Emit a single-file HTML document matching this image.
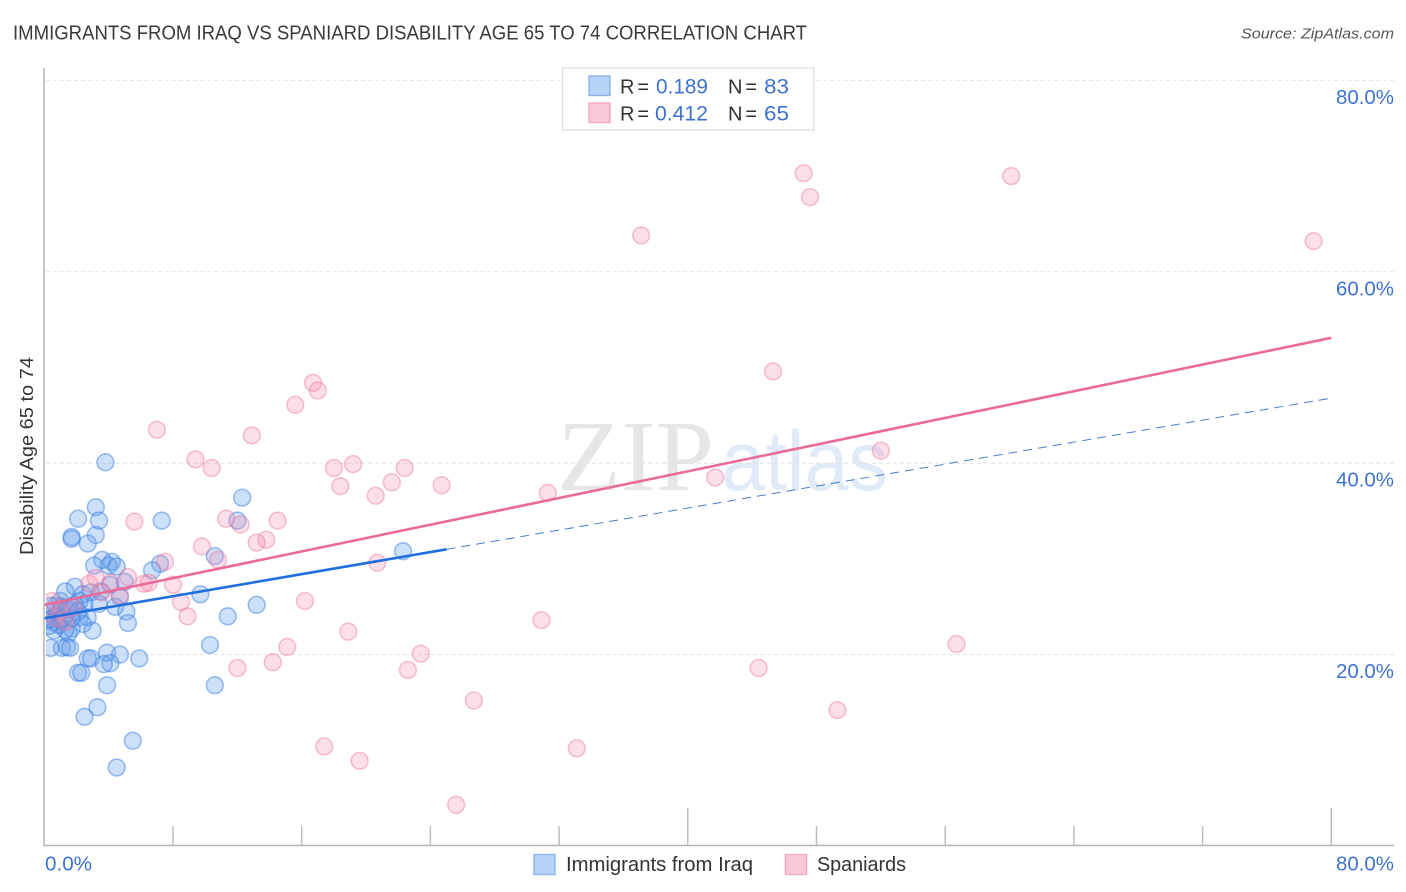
<!DOCTYPE html>
<html lang="en">
<head>
<meta charset="utf-8">
<title>Immigrants from Iraq vs Spaniard Disability Age 65 to 74 Correlation Chart</title>
<style>
html,body{margin:0;padding:0;background:#fff;}
svg{display:block;font-family:"Liberation Sans",sans-serif;}
</style>
</head>
<body>
<svg id="chart" xmlns="http://www.w3.org/2000/svg" width="1406" height="892" viewBox="0 0 1406 892">
  <defs><clipPath id="plot-clip"><rect x="46" y="68" width="1348" height="777"/></clipPath></defs>
  <rect x="0" y="0" width="1406" height="892" fill="#fff"/>
  <text x="13" y="39.5" font-size="20" fill="#3a3a3a" textLength="794" lengthAdjust="spacingAndGlyphs">IMMIGRANTS FROM IRAQ VS SPANIARD DISABILITY AGE 65 TO 74 CORRELATION CHART</text>
  <text x="1394" y="38.5" font-size="15" font-style="italic" fill="#555" text-anchor="end" textLength="153" lengthAdjust="spacingAndGlyphs">Source: ZipAtlas.com</text>
  <g>
    <text x="557" y="490" font-family="'Liberation Serif',serif" font-size="101" fill="#e6e6e6" textLength="157" lengthAdjust="spacingAndGlyphs">ZIP</text>
    <text x="721" y="490" font-size="84" fill="#e0eaf9" textLength="167" lengthAdjust="spacingAndGlyphs">atlas</text>
  </g>
  <g id="grid"></g>
  <g id="points" clip-path="url(#plot-clip)"></g>
  <g id="trends"></g>
  <g id="axes"></g>
  <text transform="translate(33,456) rotate(-90)" font-size="18" fill="#333" text-anchor="middle" textLength="198" lengthAdjust="spacingAndGlyphs">Disability Age 65 to 74</text>

  <g>
    <rect x="562.5" y="68" width="251.5" height="62" fill="#fff" stroke="#dcdcdc" stroke-width="1.2"/>
    <rect x="589" y="76" width="21" height="19.5" fill="#b5d3f7" stroke="#8db4e8" stroke-width="1.4"/>
    <rect x="589" y="103" width="21" height="19.5" fill="#fbc8da" stroke="#f3a9c3" stroke-width="1.4"/>
    <text x="620" y="93.5" font-size="20" fill="#333" textLength="29" lengthAdjust="spacing">R =</text>
    <text x="656" y="93.5" font-size="21" fill="#3f73d0" textLength="52" lengthAdjust="spacingAndGlyphs">0.189</text>
    <text x="728" y="93.5" font-size="20" fill="#333" textLength="29" lengthAdjust="spacing">N =</text>
    <text x="764" y="93.5" font-size="21" fill="#3f73d0" textLength="25" lengthAdjust="spacingAndGlyphs">83</text>
    <text x="620" y="120.5" font-size="20" fill="#333" textLength="29" lengthAdjust="spacing">R =</text>
    <text x="655" y="120.5" font-size="21" fill="#3f73d0" textLength="53" lengthAdjust="spacingAndGlyphs">0.412</text>
    <text x="728" y="120.5" font-size="20" fill="#333" textLength="29" lengthAdjust="spacing">N =</text>
    <text x="764" y="120.5" font-size="21" fill="#3f73d0" textLength="25" lengthAdjust="spacingAndGlyphs">65</text>
  </g>

  <g>
    <rect x="534" y="854.5" width="21" height="20" fill="#b5d3f7" stroke="#8db4e8" stroke-width="1.4"/>
    <text x="566" y="871" font-size="20" fill="#333" textLength="187" lengthAdjust="spacingAndGlyphs">Immigrants from Iraq</text>
    <rect x="785.5" y="854.5" width="21" height="20" fill="#fbc8da" stroke="#f3a9c3" stroke-width="1.4"/>
    <text x="817" y="871" font-size="20" fill="#333" textLength="89" lengthAdjust="spacingAndGlyphs">Spaniards</text>
  </g>
</svg>
<script>
// Immigrants from Iraq: x = share (%), y = disability rate (%)
const iraqX = [3.8,3.2,3.4,2.1,1.7,1.7,3.2,2.7,7.3,12.3,12.0,22.3,10.6,7.2,6.7,3.6,4.2,4.0,3.1,4.5,5.0,4.1,1.9,1.3,2.9,2.4,3.5,4.7,9.7,13.2,4.4,3.4,2.2,2.5,1.0,5.1,11.4,5.2,2.7,2.2,2.4,1.7,3.0,1.5,1.3,0.6,0.4,1.1,1.4,1.6,2.7,2.9,4.7,3.9,4.1,3.7,5.9,10.3,10.6,3.9,2.1,2.3,3.3,2.5,5.5,4.5,0.5,0.7,0.4,0.8,1.1,1.4,0.6,0.2,1.0,1.6,1.9,0.4,1.2,1.7,0.9,0.3,2.1];
const iraqY = [40.1,35.4,34.0,34.2,32.3,32.1,32.5,31.6,34.0,36.4,34.0,30.8,30.3,29.5,28.8,29.9,29.7,29.3,29.3,29.2,27.6,27.3,27.1,26.6,26.5,26.3,26.6,26.0,26.3,25.2,25.0,25.3,25.6,25.3,25.6,24.5,24.0,23.3,23.9,23.9,23.2,22.7,22.5,22.2,22.6,22.5,20.7,20.7,20.8,20.7,19.6,19.6,20.0,20.2,19.1,19.0,19.6,21.0,16.8,16.8,18.1,18.1,14.5,13.5,11.0,8.2,24.5,25.1,23.7,24.2,25.0,24.7,23.4,23.6,23.6,24.7,25.2,25.1,23.8,23.8,23.1,23.0,24.5];

// Spaniards: x = share (%), y = disability rate (%)
const spaniardsX = [47.2,47.6,60.1,37.1,78.9,45.3,52.0,41.7,31.3,16.7,17.0,15.6,7.0,12.9,9.4,10.4,18.0,19.2,22.4,18.4,21.6,24.7,20.6,11.3,12.2,14.5,5.6,13.8,13.2,9.8,10.8,7.5,20.7,6.2,6.5,8.0,5.2,3.2,2.8,4.1,4.7,3.6,8.5,8.9,16.2,30.9,18.9,15.1,56.7,23.4,14.2,12.0,22.6,44.4,49.3,26.7,17.4,33.1,19.6,25.6,0.5,0.7,1.0,1.3,1.8];
const spaniardsY = [70.3,67.8,70.0,63.8,63.2,49.6,41.3,38.5,36.9,48.4,47.6,46.1,43.5,42.9,40.4,39.5,39.5,39.9,39.5,37.6,38.0,37.7,36.6,34.2,33.6,34.0,33.9,32.0,31.7,31.3,29.9,29.7,29.6,27.4,27.5,27.3,28.1,28.0,27.4,27.5,26.2,26.5,25.5,24.0,25.6,23.6,22.4,20.8,21.1,20.1,19.2,18.6,18.4,18.6,14.2,15.2,10.4,10.2,8.9,4.3,25.6,23.8,24.5,23.4,24.9];

// Trend lines: [start, end] in data units
const iraqTrendSolidX = [0, 25];
const iraqTrendSolidY = [23.8, 31.0];
const iraqTrendDashX = [25, 80];
const iraqTrendDashY = [31.0, 46.8];
const spaniardsTrendX = [0, 80];
const spaniardsTrendY = [25.2, 53.1];

// Axis ticks
const xTickValues = [0,8,16,24,32,40,48,56,64,72,80];
const xMajorTicks = [40,80];
const xTickLabels = ["0.0%","80.0%"];
const yTickValues = [20,40,60,80];
const yTickLabels = ["20.0%","40.0%","60.0%","80.0%"];

const NS = "http://www.w3.org/2000/svg";
function xScale(v){ return 44.3 + v * 16.0875; }
function yScale(v){ return 846 - v * 9.57; }
function make(tag, attrs, parent){
  const el = document.createElementNS(NS, tag);
  for (const k in attrs) el.setAttribute(k, attrs[k]);
  parent.appendChild(el);
  return el;
}
const gridG = document.getElementById("grid");
const axesG = document.getElementById("axes");
const pointsG = document.getElementById("points");
const trendsG = document.getElementById("trends");

yTickValues.forEach(function(v, i){
  const line = make("line", {x1:46, x2:1394, y1:yScale(v), y2:yScale(v), stroke:"#e2e2e2", "stroke-width":1, "stroke-dasharray":"4 3"}, gridG);
  
  
  const label = make("text", {x:1394, y:yScale(v)+23.5, "font-size":20, fill:"#3f73d0", "text-anchor":"end", textLength:58, lengthAdjust:"spacingAndGlyphs"}, axesG);
  label.textContent = yTickLabels[i];
  
  
});

const yAxis = make("line", {x1:44, x2:44, y1:68, y2:846, stroke:"#b4b4b4", "stroke-width":1.5}, axesG);


const xAxis = make("line", {x1:44, x2:1394, y1:845.5, y2:845.5, stroke:"#b4b4b4", "stroke-width":1.5}, axesG);



xTickValues.forEach(function(v){
  if (v === 0) return;
  const top = xMajorTicks.indexOf(v) >= 0 ? 808 : 826;
  const tick = make("line", {x1:xScale(v), x2:xScale(v), y1:top, y2:846, stroke:"#bdbdbd", "stroke-width":1.5}, axesG);
  
  
});

const xLabelLeft = make("text", {x:45, y:870.5, "font-size":20, fill:"#3f73d0", textLength:47, lengthAdjust:"spacingAndGlyphs"}, axesG);
xLabelLeft.textContent = xTickLabels[0];


const xLabelRight = make("text", {x:1394, y:870.5, "font-size":20, fill:"#3f73d0", "text-anchor":"end", textLength:58, lengthAdjust:"spacingAndGlyphs"}, axesG);
xLabelRight.textContent = xTickLabels[1];



iraqX.forEach(function(v, i){
  const c = make("circle", {cx:xScale(v), cy:yScale(iraqY[i]), r:8.4, fill:"rgba(100,160,235,0.32)", stroke:"rgba(55,125,225,0.48)", "stroke-width":1.6}, pointsG);
  
  
});
spaniardsX.forEach(function(v, i){
  const c = make("circle", {cx:xScale(v), cy:yScale(spaniardsY[i]), r:8.4, fill:"rgba(245,140,175,0.28)", stroke:"rgba(232,110,150,0.4)", "stroke-width":1.6}, pointsG);
  
  
});

const dash = make("line", {x1:xScale(iraqTrendDashX[0]), x2:xScale(iraqTrendDashX[1]), y1:yScale(iraqTrendDashY[0]), y2:yScale(iraqTrendDashY[1]), stroke:"#4a7cc8", "stroke-width":1, "stroke-dasharray":"9 6"}, trendsG);


const solid = make("line", {x1:xScale(iraqTrendSolidX[0]), x2:xScale(iraqTrendSolidX[1]), y1:yScale(iraqTrendSolidY[0]), y2:yScale(iraqTrendSolidY[1]), stroke:"#1f6fdc", "stroke-width":2.6}, trendsG);


const pink = make("line", {x1:xScale(spaniardsTrendX[0]), x2:xScale(spaniardsTrendX[1]), y1:yScale(spaniardsTrendY[0]), y2:yScale(spaniardsTrendY[1]), stroke:"#ea6a9a", "stroke-width":2.6}, trendsG);


</script>
</body>
</html>
